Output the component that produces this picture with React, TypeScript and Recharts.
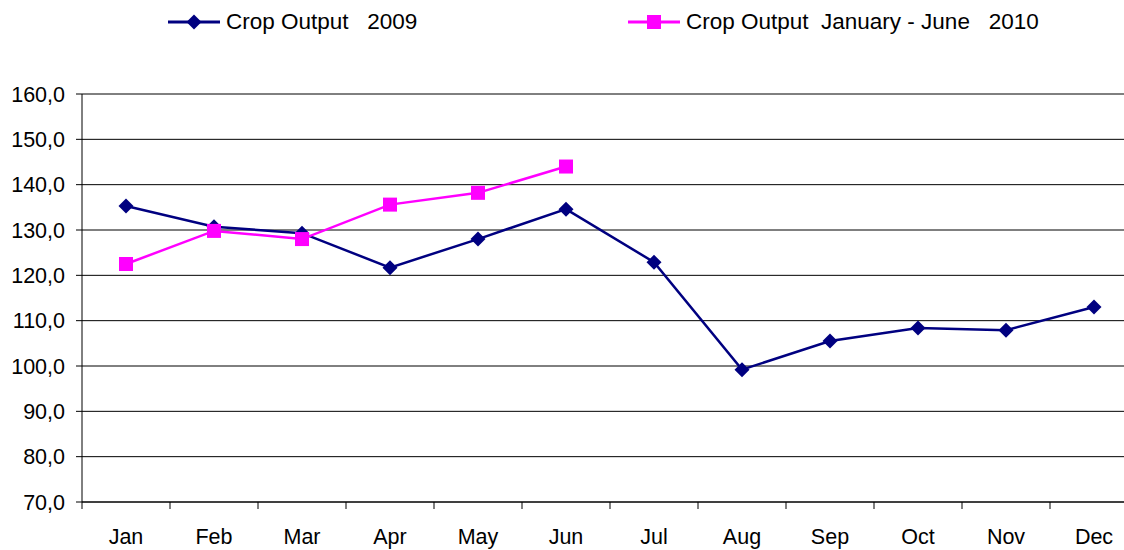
import React from 'react'
import { LineChart, Line, XAxis, YAxis, CartesianGrid } from 'recharts'

const months = ['Jan', 'Feb', 'Mar', 'Apr', 'May', 'Jun', 'Jul', 'Aug', 'Sep', 'Oct', 'Nov', 'Dec']
const output2009 = [135.3, 130.7, 129.3, 121.7, 128.0, 134.6, 122.9, 99.2, 105.5, 108.4, 107.9, 113.0]
const output2010 = [122.5, 129.8, 128.0, 135.6, 138.2, 144.0]
const yTicks = [70, 80, 90, 100, 110, 120, 130, 140, 150, 160]

const NAME_2009 = 'Crop Output   2009'
const NAME_2010 = 'Crop Output  January - June   2010'
const NAVY = '#000080'
const MAGENTA = '#ff00ff'
const FONT = '"Liberation Sans", Arial, sans-serif'

// the original plot runs past the right edge of the picture, so the svg is wider than the frame
const FRAME_W = 1124
const FRAME_H = 550
const CHART_W = 1148
const Y_AXIS_W = 82
const RIGHT = 10
const BAND = (CHART_W - Y_AXIS_W - RIGHT) / months.length
const X_LABEL_GAP = 27

const chartData = months.map((m, i) => ({
  month: m,
  y2009: output2009[i],
  y2010: i < output2010.length ? output2010[i] : null,
}))

function fmt(v: number): string {
  return v.toFixed(1).replace('.', ',')
}

// label at the category centre, tick mark at the left edge of the band
function MonthTick({ x, y, payload }: any) {
  const bx = x - BAND / 2
  return (
    <g>
      <line x1={bx} y1={y - X_LABEL_GAP} x2={bx} y2={y - X_LABEL_GAP + 7} stroke="#000" strokeWidth={1} />
      <text x={x} y={y} dy="0.71em" textAnchor="middle" fill="#000" fontSize={21.5} fontFamily={FONT}>
        {payload.value}
      </text>
    </g>
  )
}

function Diamond({ cx, cy }: any) {
  if (cx == null || cy == null) return null
  const r = 7.5
  return <polygon points={`${cx},${cy - r} ${cx + r},${cy} ${cx},${cy + r} ${cx - r},${cy}`} fill={NAVY} />
}

function Square({ cx, cy, value }: any) {
  if (cx == null || cy == null || value == null) return null
  const s = 14
  return <rect x={cx - s / 2} y={cy - s / 2} width={s} height={s} fill={MAGENTA} />
}

function LegendItem({ left, color, label, square }: { left: number; color: string; label: string; square?: boolean }) {
  return (
    <div style={{ position: 'absolute', left, top: 8, display: 'flex', alignItems: 'center', height: 28 }}>
      <svg width={52} height={20}>
        <line x1={0} y1={10} x2={52} y2={10} stroke={color} strokeWidth={3} />
        {square ? (
          <rect x={19} y={3} width={14} height={14} fill={color} />
        ) : (
          <polygon points="26,2.5 33.5,10 26,17.5 18.5,10" fill={color} />
        )}
      </svg>
      <span style={{ marginLeft: 6, fontFamily: FONT, fontSize: 22.5, whiteSpace: 'pre', color: '#000' }}>{label}</span>
    </div>
  )
}

export default function App() {
  return (
    <div style={{ position: 'relative', width: FRAME_W, height: FRAME_H, overflow: 'hidden', background: '#fff' }}>
      <style>{'body { margin: 0; }'}</style>
      <LegendItem left={168} color={NAVY} label={NAME_2009} />
      <LegendItem left={628} color={MAGENTA} label={NAME_2010} square />
      <LineChart width={CHART_W} height={FRAME_H} data={chartData} margin={{ top: 94, right: RIGHT, left: 0, bottom: 8 }}>
        <CartesianGrid vertical={false} stroke="#000" strokeWidth={1} />
        <XAxis
          dataKey="month"
          stroke="#000"
          tickLine={false}
          tickSize={0}
          tickMargin={X_LABEL_GAP}
          height={40}
          interval={0}
          padding={{ left: BAND / 2, right: BAND / 2 }}
          tick={<MonthTick />}
        />
        <YAxis
          width={Y_AXIS_W}
          domain={[70, 160]}
          ticks={yTicks}
          tickFormatter={fmt}
          stroke="#000"
          tickSize={6}
          tickMargin={11}
          tick={{ fill: '#000', fontSize: 21.5, fontFamily: FONT }}
          interval={0}
        />
        <Line
          dataKey="y2009"
          name={NAME_2009}
          stroke={NAVY}
          strokeWidth={2.5}
          dot={<Diamond />}
          isAnimationActive={false}
        />
        <Line
          dataKey="y2010"
          name={NAME_2010}
          stroke={MAGENTA}
          strokeWidth={2.5}
          dot={<Square />}
          connectNulls={false}
          isAnimationActive={false}
        />
      </LineChart>
    </div>
  )
}
